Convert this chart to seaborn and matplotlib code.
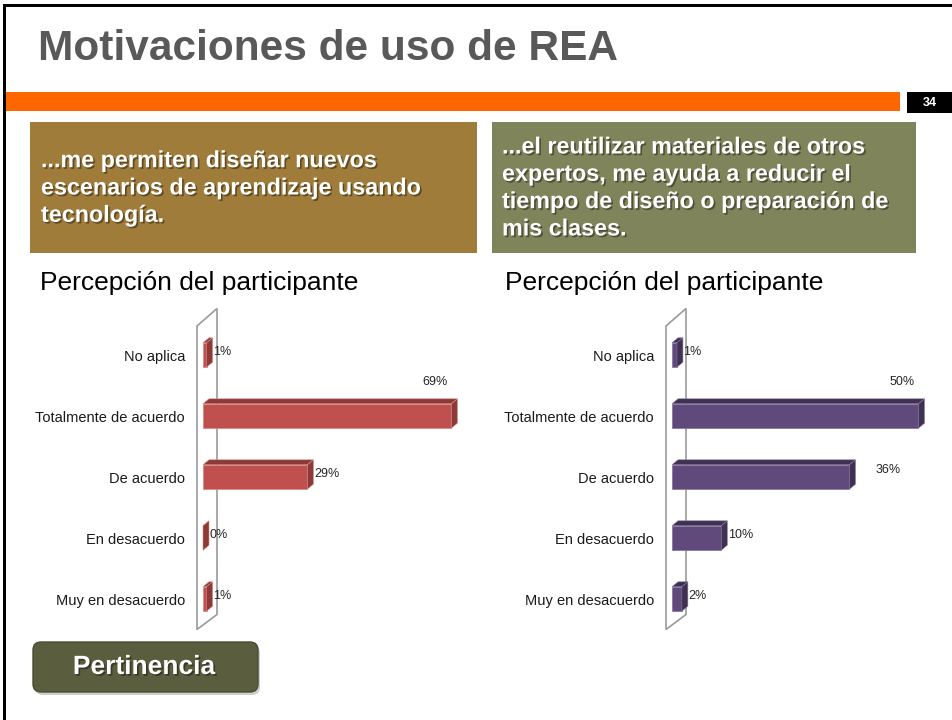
import matplotlib
matplotlib.use("Agg")
import matplotlib.pyplot as plt
import matplotlib.patheffects as pe
from matplotlib.patches import Rectangle, Polygon, FancyBboxPatch
import seaborn as sns
import pandas as pd

# ---------------- data ----------------
categories = ["No aplica", "Totalmente de acuerdo", "De acuerdo",
              "En desacuerdo", "Muy en desacuerdo"]
values_left = [1, 69, 29, 0, 1]
values_right = [1, 50, 36, 10, 2]
labels_left = ["1%", "69%", "29%", "0%", "1%"]
labels_right = ["1%", "50%", "36%", "10%", "2%"]

title = "Motivaciones de uso de REA"
page_number = "34"
box_left_text = "...me permiten diseñar nuevos\nescenarios de aprendizaje usando\ntecnología."
box_right_text = "...el reutilizar materiales de otros\nexpertos, me ayuda a reducir el\ntiempo de diseño o preparación de\nmis clases."
subtitle = "Percepción del participante"
button_text = "Pertinencia"

sns.set_theme(style="white")
plt.rcParams["font.family"] = ["Liberation Sans", "DejaVu Sans"]

W, H = 953, 720
fig = plt.figure(figsize=(W / 100, H / 100), dpi=100)
fig.patch.set_facecolor("white")

# background axes in pixel coordinates for slide decorations
bg = fig.add_axes([0, 0, 1, 1])
bg.set_xlim(0, W)
bg.set_ylim(H, 0)
bg.axis("off")

# slide border (left and top)
bg.add_patch(Rectangle((3, 4), 3, H, color="black", lw=0))
bg.add_patch(Rectangle((3, 4), W, 3, color="black", lw=0))

# title
bg.text(38, 49, title, fontsize=30.5, fontweight="bold", color="#595959",
        va="center", ha="left")

# orange bar + page number
bg.add_patch(Rectangle((6, 92), 894, 19, color="#FF6600", lw=0))
bg.add_patch(Rectangle((907, 92), 46, 21, color="black", lw=0))
bg.text(930, 102.5, page_number, fontsize=9, fontweight="bold", color="white",
        ha="center", va="center")

shadow = [pe.SimplePatchShadow(offset=(1.2, -1.2), shadow_rgbFace="black", alpha=0.4), pe.Normal()]

# coloured text boxes
bg.add_patch(Rectangle((30, 122), 447, 131, color="#A07C3A", lw=0))
bg.text(41, 188, box_left_text, fontsize=16.8, fontweight="bold", color="white",
        ha="left", va="center", linespacing=1.24, path_effects=shadow)
bg.add_patch(Rectangle((492, 122), 424, 131, color="#7F845A", lw=0))
bg.text(502, 188, box_right_text, fontsize=16.8, fontweight="bold", color="white",
        ha="left", va="center", linespacing=1.24, path_effects=shadow)

# subtitles
bg.text(40, 283, subtitle, fontsize=19, color="black", ha="left", va="center")
bg.text(505, 283, subtitle, fontsize=19, color="black", ha="left", va="center")

# button
btn_shadow = FancyBboxPatch((35, 645), 225, 50, boxstyle="round,pad=0,rounding_size=8",
                            facecolor="#00000030", edgecolor="none")
bg.add_patch(btn_shadow)
btn = FancyBboxPatch((33, 642), 225, 50, boxstyle="round,pad=0,rounding_size=8",
                     facecolor="#5A5E3E", edgecolor="#4A4E32", lw=1)
bg.add_patch(btn)
bg.text(144, 667, button_text, fontsize=19, fontweight="bold", color="white",
        ha="center", va="center", path_effects=shadow)


def bar_chart(left_px, width_px, px_per_unit, values, labels, front, dark, edge, far_right):
    top_px, bottom_px = 324.5, 629.5
    ax = fig.add_axes([left_px / W, 1 - bottom_px / H, width_px / W,
                       (bottom_px - top_px) / H])
    df = pd.DataFrame({"cat": categories, "val": values})
    sns.barplot(data=df, x="val", y="cat", order=categories, orient="h",
                color=front, width=0.4, saturation=1, ax=ax,
                edgecolor=edge, linewidth=0.6)
    ax.set_ylim(4.5, -0.5)
    xmax = width_px / px_per_unit
    ax.set_xlim(0, xmax)
    for s in ax.spines.values():
        s.set_visible(False)
    ax.set_xticks([])
    ax.set_xlabel("")
    ax.set_ylabel("")
    ax.tick_params(axis="y", length=0, pad=13, labelsize=10.5)
    for t in ax.get_yticklabels():
        t.set_color("#1a1a1a")

    # pixel -> data conversion
    ux = xmax / width_px
    uy = 5.0 / (bottom_px - top_px)
    dx, dy = 6 * ux, 5 * uy

    # back wall (slanted panel)
    wall = Polygon([(-6 * ux, 4.5), (-6 * ux, -0.5 + 1.5 * uy),
                    (14 * ux, -0.5 - 16 * uy), (14 * ux, 4.5 - 15 * uy)],
                   closed=True, fill=False, edgecolor="#9a9a9a", lw=1.2,
                   clip_on=False, zorder=0.5)
    ax.add_patch(wall)

    vmax = max(values)
    bars = list(ax.patches)[:len(values)]
    for p, lab, v in zip(bars, labels, values):
        x0, y0 = p.get_x(), p.get_y()
        w, h = p.get_width(), p.get_height()
        x1, y1 = x0 + w, y0 + h
        top = Polygon([(x0, y0), (x1, y0), (x1 + dx, y0 - dy), (x0 + dx, y0 - dy)],
                      closed=True, facecolor=dark, edgecolor=edge, lw=0.4,
                      clip_on=False, zorder=3)
        side = Polygon([(x1, y0), (x1, y1), (x1 + dx, y1 - dy), (x1 + dx, y0 - dy)],
                       closed=True, facecolor=dark, edgecolor=edge, lw=0.4,
                       clip_on=False, zorder=3)
        ax.add_patch(top)
        ax.add_patch(side)
        p.set_zorder(2.5)
        yc = y0 + h / 2
        if v == vmax:
            ax.text(x1 - 4 * ux, y0 - 22 * uy, lab, fontsize=9, color="#262626",
                    ha="right", va="center", clip_on=False)
        elif v in far_right:
            ax.text(x1 + dx + 20 * ux, yc - 7 * uy, lab, fontsize=9, color="#262626",
                    ha="left", va="center", clip_on=False)
        else:
            ax.text(x1 + dx + 0.5 * ux, yc - 3 * uy, lab, fontsize=9, color="#262626",
                    ha="left", va="center", clip_on=False)
    return ax


bar_chart(203, 280, 3.6, values_left, labels_left, "#C0504D", "#8C3A38", "#D98A88", [])
bar_chart(672, 270, 4.93, values_right, labels_right, "#604A7B", "#3F3152", "#8A78A0", [36])

fig.savefig("out.png", dpi=100, facecolor="white")
